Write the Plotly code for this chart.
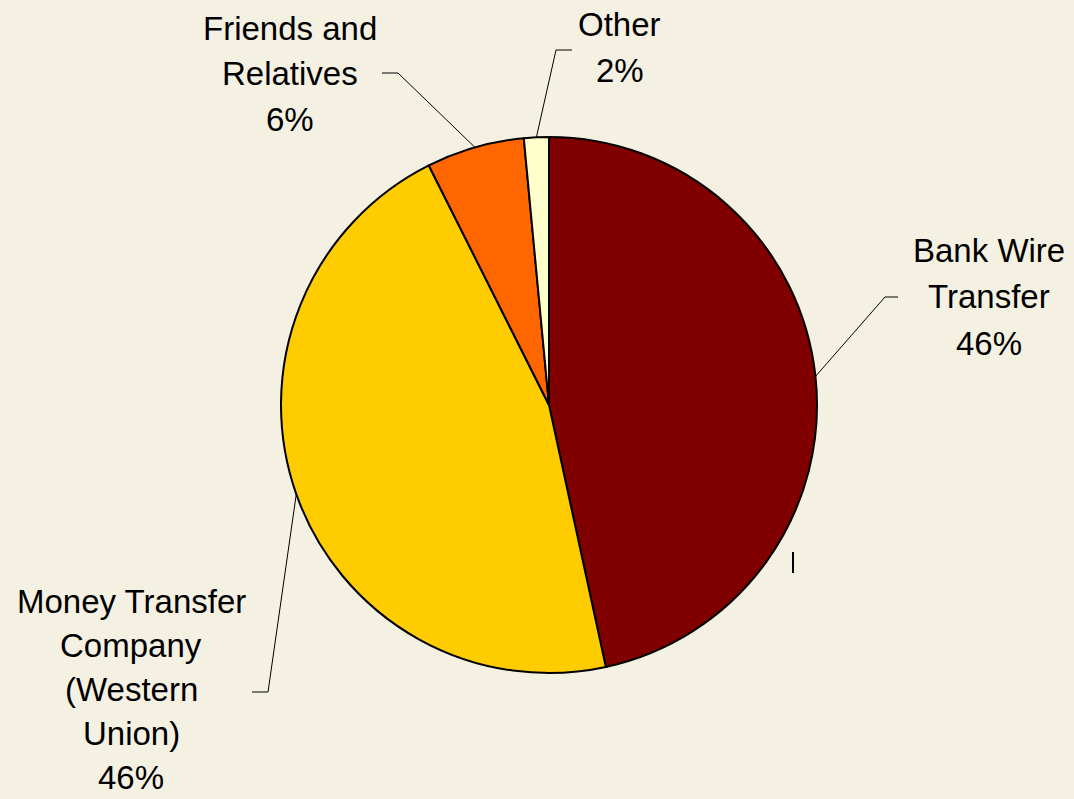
import math
import plotly.graph_objects as go

# ---- data ----
categories = ["Bank Wire Transfer", "Money Transfer Company (Western Union)",
              "Friends and Relatives", "Other"]
values = [46.6, 46.0, 5.9, 1.5]
pct_labels = ["46%", "46%", "6%", "2%"]
label_lines = [["Bank Wire", "Transfer"],
               ["Money Transfer", "Company", "(Western", "Union)"],
               ["Friends and", "Relatives"],
               ["Other"]]
colors = ["#800000", "#FFCC00", "#FF6600", "#FFFFCC"]

# ---- layout constants (pixels) ----
W, H = 1074, 799
CX, CY, R = 549, 405, 268
BG = "#F5F1E2"
FONT = "Liberation Sans, Arial, sans-serif"
FS = 33
# label block: (center x, first-line y, line spacing), elbow point, horizontal end x
label_pos = [(989, 250, 46.5), (131, 601, 44.0), (290, 28, 45.5), (620, 25, 45.0)]
elbows = [(885, 297), (268, 692), (398, 73), (556, 50)]
ends_x = [898, 252, 382, 572]

def px(x):
    return x / W

def py(y):
    return 1 - y / H

fig = go.Figure(go.Pie(
    labels=categories, values=values, sort=False, direction="clockwise",
    rotation=0, textinfo="none", hoverinfo="label+percent",
    marker=dict(colors=colors, line=dict(color="#000000", width=2)),
    domain=dict(x=[px(CX - R), px(CX + R)], y=[py(CY + R), py(CY - R)]),
    showlegend=False,
))

total = sum(values)
cum = 0.0
annotations = []
shapes = []
for i, v in enumerate(values):
    mid = (cum + v / 2) / total * 2 * math.pi
    cum += v
    ex = CX + R * math.sin(mid)
    ey = CY - R * math.cos(mid)
    bx, by = elbows[i]
    shapes.append(dict(type="path", xref="paper", yref="paper",
                       path=f"M {px(ex)} {py(ey)} L {px(bx)} {py(by)} L {px(ends_x[i])} {py(by)}",
                       line=dict(color="#000000", width=1)))
    lines = label_lines[i] + [pct_labels[i]]
    lx, ly, lh = label_pos[i]
    for j, t in enumerate(lines):
        annotations.append(dict(x=px(lx), y=py(ly + j * lh), xref="paper", yref="paper",
                                text=t, showarrow=False, xanchor="center", yanchor="middle",
                                borderpad=0,
                                font=dict(family=FONT, size=FS, color="#000000")))

# small stray tick mark present in the original
shapes.append(dict(type="line", xref="paper", yref="paper",
                   x0=px(793), x1=px(793), y0=py(552), y1=py(573),
                   line=dict(color="#000000", width=2)))

fig.update_layout(
    width=W, height=H, margin=dict(l=0, r=0, t=0, b=0),
    paper_bgcolor=BG, plot_bgcolor=BG,
    annotations=annotations, shapes=shapes,
)

fig.write_html("out.html")
